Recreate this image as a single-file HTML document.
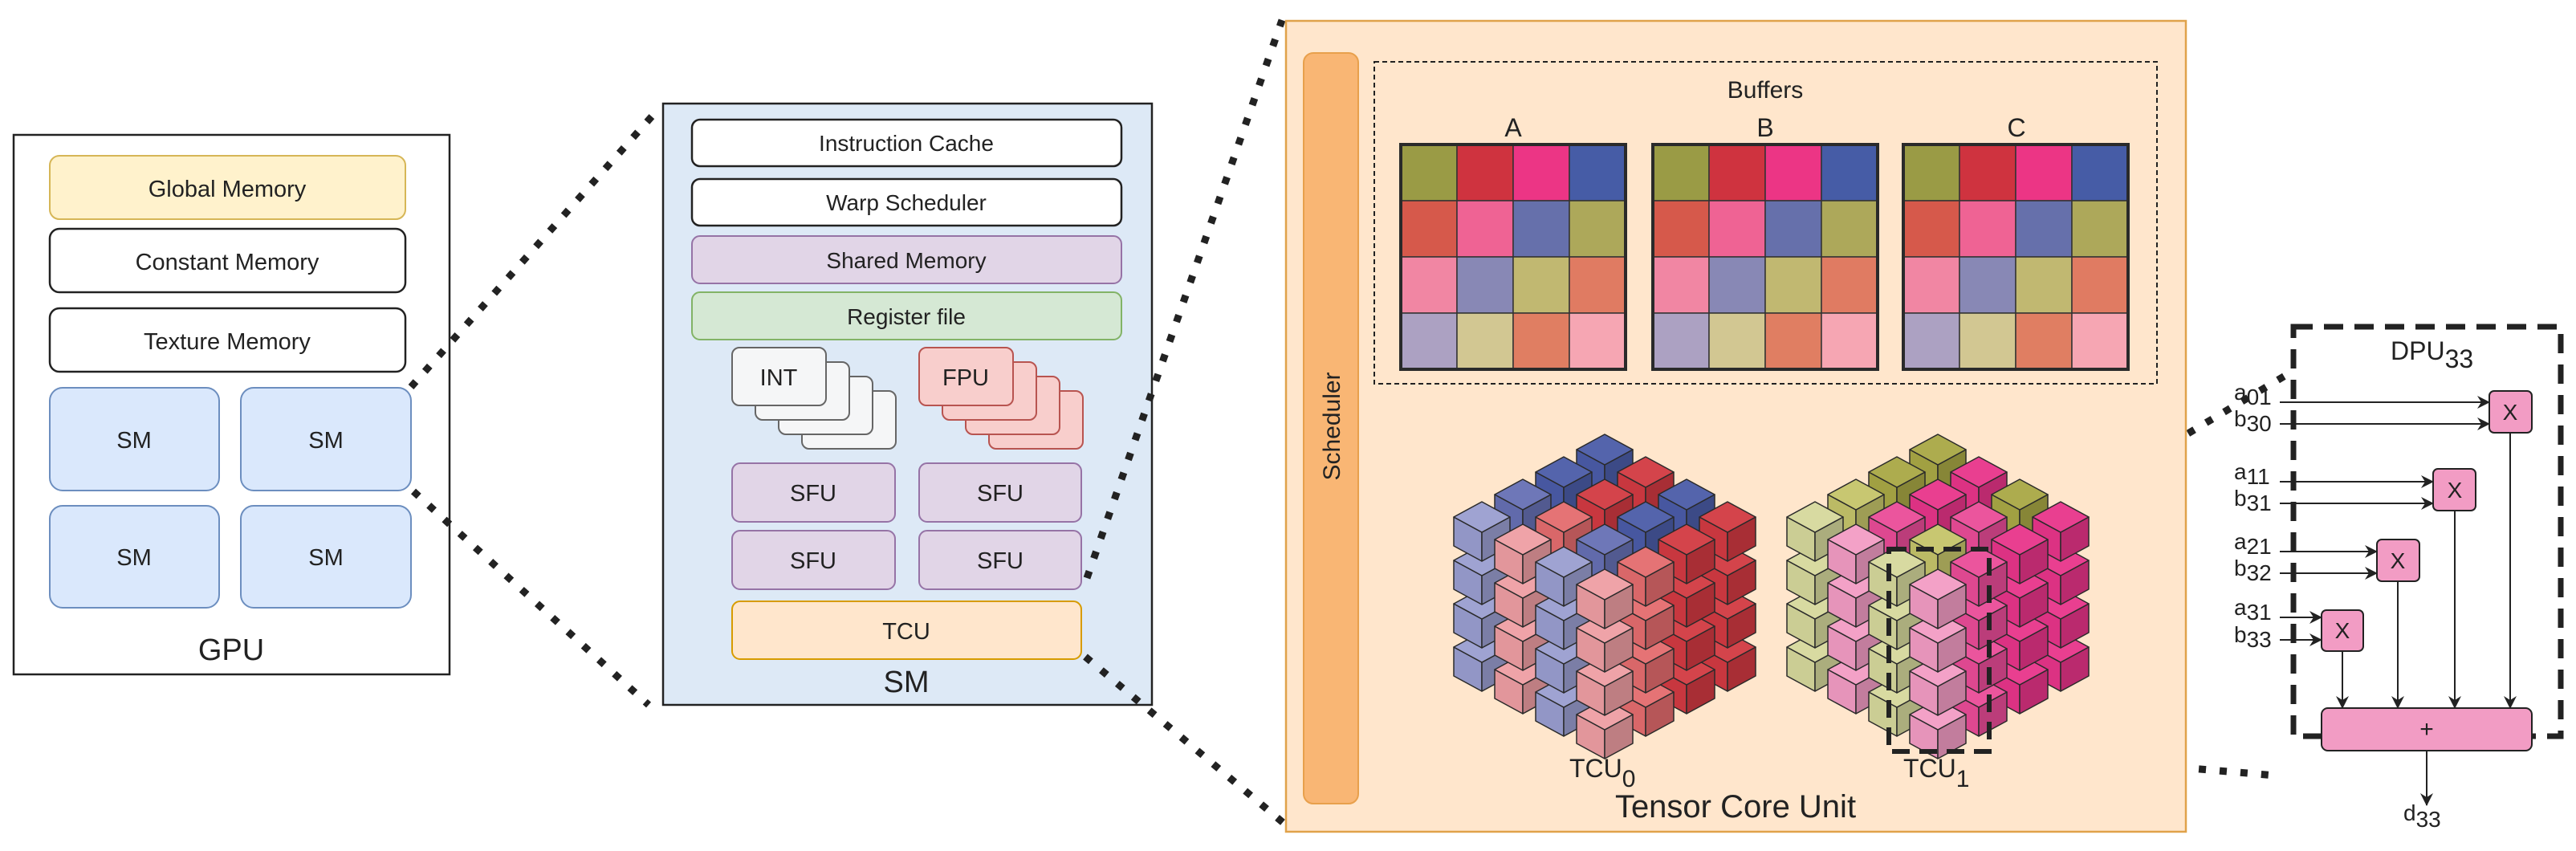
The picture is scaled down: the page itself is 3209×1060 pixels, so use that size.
<!DOCTYPE html>
<html><head><meta charset="utf-8"><style>
html,body{margin:0;padding:0;background:#fff;}
svg{display:block;font-family:"Liberation Sans",sans-serif;}
</style></head><body>
<svg id="s" width="3209" height="1060" viewBox="0 0 3209 1060" xmlns="http://www.w3.org/2000/svg">
<!-- GPU -->
<rect x="17" y="168" width="543" height="672" fill="#fff" stroke="#222" stroke-width="2.5"/>
<rect x="62" y="194" width="443" height="79" rx="12" fill="#fff2cc" stroke="#d6b656" stroke-width="2"/>
<text x="283" y="245" font-size="29" text-anchor="middle" fill="#222">Global Memory</text>
<rect x="62" y="285" width="443" height="79" rx="12" fill="#fff" stroke="#222" stroke-width="2.5"/>
<text x="283" y="336" font-size="29" text-anchor="middle" fill="#222">Constant Memory</text>
<rect x="62" y="384" width="443" height="79" rx="12" fill="#fff" stroke="#222" stroke-width="2.5"/>
<text x="283" y="435" font-size="29" text-anchor="middle" fill="#222">Texture Memory</text>
<rect x="62" y="483" width="211" height="128" rx="16" fill="#dae8fc" stroke="#6c8ebf" stroke-width="2"/>
<rect x="300" y="483" width="212" height="128" rx="16" fill="#dae8fc" stroke="#6c8ebf" stroke-width="2"/>
<rect x="62" y="630" width="211" height="127" rx="16" fill="#dae8fc" stroke="#6c8ebf" stroke-width="2"/>
<rect x="300" y="630" width="212" height="127" rx="16" fill="#dae8fc" stroke="#6c8ebf" stroke-width="2"/>
<text x="167" y="558" font-size="29" text-anchor="middle" fill="#222">SM</text>
<text x="406" y="558" font-size="29" text-anchor="middle" fill="#222">SM</text>
<text x="167" y="704" font-size="29" text-anchor="middle" fill="#222">SM</text>
<text x="406" y="704" font-size="29" text-anchor="middle" fill="#222">SM</text>
<text x="288" y="822" font-size="38" text-anchor="middle" fill="#222">GPU</text>

<!-- SM panel -->
<rect x="826" y="129" width="609" height="749" fill="#dde9f6" stroke="#222" stroke-width="2.5"/>
<rect x="862" y="149" width="535" height="58" rx="10" fill="#fff" stroke="#222" stroke-width="2.5"/>
<text x="1129" y="188" font-size="28" text-anchor="middle" fill="#222">Instruction Cache</text>
<rect x="862" y="223" width="535" height="58" rx="10" fill="#fff" stroke="#222" stroke-width="2.5"/>
<text x="1129" y="262" font-size="28" text-anchor="middle" fill="#222">Warp Scheduler</text>
<rect x="862" y="294" width="535" height="59" rx="10" fill="#e1d5e7" stroke="#9673a6" stroke-width="2"/>
<text x="1129" y="334" font-size="28" text-anchor="middle" fill="#222">Shared Memory</text>
<rect x="862" y="364" width="535" height="59" rx="10" fill="#d5e8d4" stroke="#82b366" stroke-width="2"/>
<text x="1129" y="404" font-size="28" text-anchor="middle" fill="#222">Register file</text>
<g stroke="#666" stroke-width="2" fill="#f5f6f7">
<rect x="999" y="487" width="117" height="72" rx="9"/>
<rect x="970" y="469" width="117" height="72" rx="9"/>
<rect x="941" y="451" width="117" height="72" rx="9"/>
<rect x="912" y="433" width="117" height="72" rx="9"/>
</g>
<text x="970" y="480" font-size="29" text-anchor="middle" fill="#222">INT</text>
<g stroke="#b85450" stroke-width="2" fill="#f8cecc">
<rect x="1232" y="487" width="117" height="72" rx="9"/>
<rect x="1203" y="469" width="117" height="72" rx="9"/>
<rect x="1174" y="451" width="117" height="72" rx="9"/>
<rect x="1145" y="433" width="117" height="72" rx="9"/>
</g>
<text x="1203" y="480" font-size="29" text-anchor="middle" fill="#222">FPU</text>
<g stroke="#9673a6" stroke-width="2" fill="#e1d5e7">
<rect x="912" y="577" width="203" height="73" rx="10"/>
<rect x="1145" y="577" width="202" height="73" rx="10"/>
<rect x="912" y="661" width="203" height="73" rx="10"/>
<rect x="1145" y="661" width="202" height="73" rx="10"/>
</g>
<text x="1013" y="624" font-size="29" text-anchor="middle" fill="#222">SFU</text>
<text x="1246" y="624" font-size="29" text-anchor="middle" fill="#222">SFU</text>
<text x="1013" y="708" font-size="29" text-anchor="middle" fill="#222">SFU</text>
<text x="1246" y="708" font-size="29" text-anchor="middle" fill="#222">SFU</text>
<rect x="912" y="749" width="435" height="72" rx="10" fill="#ffe6cc" stroke="#d79b00" stroke-width="2"/>
<text x="1129" y="796" font-size="29" text-anchor="middle" fill="#222">TCU</text>
<text x="1129" y="862" font-size="38" text-anchor="middle" fill="#222">SM</text>

<!-- dotted connectors -->
<g stroke="#222" stroke-width="9" stroke-dasharray="9 17" fill="none">
<line x1="512" y1="482" x2="820" y2="136"/>
<line x1="515" y1="612" x2="808" y2="878"/>
<line x1="1354" y1="720" x2="1597" y2="25"/>
<line x1="1352" y1="818" x2="1600" y2="1026"/>
<line x1="2480" y1="686" x2="2850" y2="466"/>
<line x1="2480" y1="936" x2="2835" y2="966"/>
</g>

<!-- TCU panel -->
<rect x="1602" y="26" width="1121" height="1010" fill="#ffe6cc" stroke="#e0a24a" stroke-width="2.5"/>
<rect x="1624" y="66" width="68" height="935" rx="12" fill="#f9b674" stroke="#e8a04c" stroke-width="2"/>
<text transform="translate(1669,531) rotate(-90)" font-size="30" text-anchor="middle" fill="#222">Scheduler</text>
<rect x="1712" y="77" width="975" height="401" fill="none" stroke="#222" stroke-width="2" stroke-dasharray="6 4"/>
<text x="2199" y="122" font-size="30" text-anchor="middle" fill="#222">Buffers</text>
<g id="mats"></g>
<text x="1885" y="170" font-size="32" text-anchor="middle" fill="#222">A</text>
<text x="2199" y="170" font-size="32" text-anchor="middle" fill="#222">B</text>
<text x="2512" y="170" font-size="32" text-anchor="middle" fill="#222">C</text>
<g id="cubes"></g>
<rect x="2353" y="684" width="125" height="252" fill="none" stroke="#222" stroke-width="6" stroke-dasharray="22 12"/>
<text x="1955" y="968" font-size="32" fill="#222">TCU<tspan font-size="30" dy="12">0</tspan></text>
<text x="2371" y="968" font-size="32" fill="#222">TCU<tspan font-size="30" dy="12">1</tspan></text>
<text x="2162" y="1018" font-size="40" text-anchor="middle" fill="#222">Tensor Core Unit</text>

<!-- DPU -->
<rect x="2857" y="407" width="333" height="510" fill="none" stroke="#222" stroke-width="7" stroke-dasharray="24 14"/>
<text x="2978" y="448" font-size="32" fill="#222">DPU<tspan dy="10">33</tspan></text>
<defs>
<marker id="ab" markerWidth="16" markerHeight="16" refX="15" refY="8" orient="auto" markerUnits="userSpaceOnUse" viewBox="0 0 16 16"><path d="M0,0 L16,8 L0,16 L5,8 z" fill="#222"/></marker></defs>
<g stroke="#222" stroke-width="2" fill="none" marker-end="url(#ab)">
<line x1="2840" y1="501" x2="3101" y2="501"/>
<line x1="2840" y1="528" x2="3101" y2="528"/>
<line x1="2840" y1="600" x2="3031" y2="600"/>
<line x1="2840" y1="627" x2="3031" y2="627"/>
<line x1="2840" y1="687" x2="2961" y2="687"/>
<line x1="2840" y1="714" x2="2961" y2="714"/>
<line x1="2840" y1="769" x2="2892" y2="769"/>
<line x1="2840" y1="797" x2="2892" y2="797"/>
<line x1="3127" y1="539" x2="3127" y2="882"/>
<line x1="3058" y1="636" x2="3058" y2="882"/>
<line x1="2987" y1="724" x2="2987" y2="882"/>
<line x1="2918" y1="811" x2="2918" y2="882"/>
<line x1="3023" y1="935" x2="3023" y2="1003"/>
</g>
<g fill="#f29cc4" stroke="#222" stroke-width="2">
<rect x="3101" y="487" width="53" height="52" rx="6"/>
<rect x="3031" y="584" width="53" height="52" rx="6"/>
<rect x="2961" y="672" width="53" height="52" rx="6"/>
<rect x="2892" y="760" width="52" height="51" rx="6"/>
<rect x="2892" y="882" width="262" height="53" rx="8"/>
</g>
<g font-size="28" text-anchor="middle" fill="#222">
<text x="3127" y="523">X</text><text x="3058" y="620">X</text><text x="2987" y="708">X</text><text x="2918" y="795">X</text>
<text x="3023" y="918" font-size="30">+</text>
</g>
<g font-size="28" fill="#222">
<text x="2783" y="498">a<tspan dy="6">01</tspan></text>
<text x="2783" y="531">b<tspan dy="6">30</tspan></text>
<text x="2783" y="597">a<tspan dy="6">11</tspan></text>
<text x="2783" y="630">b<tspan dy="6">31</tspan></text>
<text x="2783" y="684">a<tspan dy="6">21</tspan></text>
<text x="2783" y="717">b<tspan dy="6">32</tspan></text>
<text x="2783" y="766">a<tspan dy="6">31</tspan></text>
<text x="2783" y="800">b<tspan dy="6">33</tspan></text>
<text x="2994" y="1022">d<tspan dy="8">33</tspan></text>
</g>
</svg>
<script>
var NS="http://www.w3.org/2000/svg";
function el(p,t,a){var e=document.createElementNS(NS,t);for(var k in a)e.setAttribute(k,a[k]);p.appendChild(e);return e;}
var cols=[["#9a9b45","#cf333f","#ec3585","#465ca6"],["#d6594b","#ef6394","#6670ab","#ada85a"],["#f186a3","#8888b5","#c1b871","#e07b62"],["#aca1c2","#d2c792","#e07e62","#f6a6b3"]];
var mats=document.getElementById("mats");
[1745,2059,2371].forEach(function(x0){
 var y0=180,c=70;
 for(var r=0;r<4;r++)for(var q=0;q<4;q++)el(mats,"rect",{x:x0+q*c,y:y0+r*c,width:c,height:c,fill:cols[r][q],stroke:"#333","stroke-width":1.5});
 el(mats,"rect",{x:x0,y:y0,width:4*c,height:4*c,fill:"none",stroke:"#2a2a2a","stroke-width":4});
});
function shade(h,f){var n=parseInt(h.slice(1),16);var r=(n>>16)&255,g=(n>>8)&255,b=n&255;
 function c(v){v=Math.round(f>1?v+(255-v)*(f-1):v*f);return Math.max(0,Math.min(255,v));}
 return "rgb("+c(r)+","+c(g)+","+c(b)+")";}
var P0="#ee9ea3",LAV="#9a9ed0",SAL="#e46c6e",RED="#d23a42",BLU="#4b5ca8",MB="#6670b4";
var tc0=[[P0,SAL,RED,RED],[LAV,MB,BLU,BLU],[P0,SAL,RED,RED],[LAV,MB,BLU,BLU]];
var PK="#f29cc4",YG="#d6d89c",MG="#ea4c98",HP="#e8358a",OL="#a9a845",KH="#c5c46a";
var tc1=[[PK,MG,HP,HP],[YG,KH,MG,OL],[PK,MG,HP,HP],[YG,KH,OL,OL]];
var cubes=document.getElementById("cubes");
function cluster(fx,tab){
 var list=[];
 for(var i=0;i<4;i++)for(var j=0;j<4;j++)for(var k=0;k<4;k++)list.push([i,j,k]);
 list.sort(function(a,b){var d=(b[0]+b[1])-(a[0]+a[1]);if(d)return d;return b[2]-a[2];});
 list.forEach(function(t){var i=t[0],j=t[1],k=t[2];
  var cx=fx-51*i+51*j,cy=728+54*k-28*(i+j);var col=tab[i][j];
  var hw=35,hh=19,sd=36;
  var g={stroke:"#2a2a2a","stroke-width":1.5,"stroke-linejoin":"round"};
  function poly(pts,f){var a={points:pts.map(function(p){return p[0]+","+p[1];}).join(" "),fill:f};for(var z in g)a[z]=g[z];el(cubes,"polygon",a);}
  poly([[cx-hw,cy],[cx,cy+hh],[cx,cy+hh+sd],[cx-hw,cy+sd]],shade(col,0.95));
  poly([[cx,cy+hh],[cx+hw,cy],[cx+hw,cy+sd],[cx,cy+hh+sd]],shade(col,0.8));
  poly([[cx-hw,cy],[cx,cy-hh],[cx+hw,cy],[cx,cy+hh]],shade(col,1.05));
 });
}
cluster(1999,tc0);cluster(2414,tc1);
</script>
</body></html>
